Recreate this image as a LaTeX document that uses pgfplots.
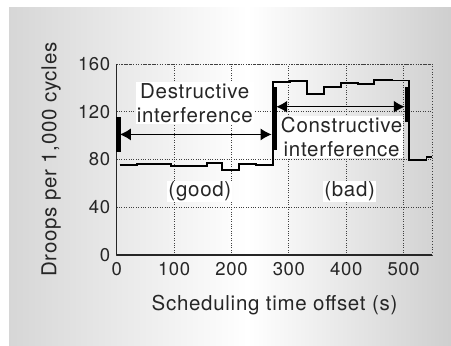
\documentclass[border=0pt]{standalone}
\usepackage{fontspec}
\setmainfont{TeX Gyre Heros}[LetterSpace=3.5]
\usepackage{pgfplots}
\pgfplotsset{compat=1.18}
\usetikzlibrary{arrows.meta}
\pgfdeclarehorizontalshading{bgshade}{100bp}{color(0bp)=(black!16); color(25bp)=(black!16); color(52bp)=(white); color(75bp)=(black!19); color(100bp)=(black!19)}
\begin{document}
\begin{tikzpicture}[font=\fontsize{20.5bp}{24.4bp}\selectfont]
\fill[white] (0,0) rectangle (451bp,346bp);
\shade[shading=bgshade] (9bp,0) rectangle (451bp,338bp);
\begin{axis}[
  at={(116.7bp,91bp)}, anchor=south west,
  scale only axis, width=315.6bp, height=191bp,
  xmin=0, xmax=550, ymin=0, ymax=160,
  xtick={0,100,...,500}, ytick={0,40,...,160},
  axis x line*=bottom, axis y line*=left,
  axis line style={line width=1.2bp, black!85},
  major tick length=0pt,
  grid=major,
  major grid style={dotted, black!75, line width=0.7bp},
  tick label style={font=\fontsize{18.5bp}{22bp}\selectfont, text=black!85},
  xticklabel style={yshift=-4bp},
  yticklabel style={xshift=-3bp},
  /pgf/number format/assume math mode=true,
  xlabel={Scheduling time offset (s)},
  ylabel={Droops per 1,000 cycles},
  every axis x label/.style={at={(axis description cs:0.5,0)}, anchor=base, yshift=-55bp, text=black!85},
  every axis y label/.style={at={([xshift=-65.5bp]axis description cs:0,0.5)}, rotate=90, anchor=center, text=black!85},
  clip=false,
]
\draw[dotted, black!75, line width=0.7bp] (rel axis cs:0,1) -- (rel axis cs:1,1) -- (rel axis cs:1,0);
\addplot[const plot, black, line width=1.8bp] coordinates {
(5,75.4) (35,76.5) (65,76.3) (95,74.8) (157,77.3) (183,71.2) (213,76) (243,75.1)
(272,145) (302,146) (331,134.8) (361,140.4) (391,143.8) (420,143) (449,146.3) (480,146.2)
(510,79.6) (540,81.8) (550,81.8)
};
\node[fill=white, inner sep=1bp, align=center, anchor=base, text=black!85] at (axis cs:136,110.8) {Destructive\\interference};
\node[fill=white, inner sep=1bp, align=center, anchor=base, text=black!85] at (axis cs:392,82.3) {Constructive\\interference};
\node[fill=white, inner sep=1bp, anchor=base, text=black!85] at (axis cs:145,48.8) {(good)};
\node[fill=white, inner sep=1bp, anchor=base, text=black!85] at (axis cs:406,48.8) {(bad)};
\draw[line width=1.1bp, {Latex[length=11bp,width=12bp]}-{Latex[length=11bp,width=12bp]}] (axis cs:5.5,101) -- (axis cs:270,101);
\draw[line width=1.1bp, {Latex[length=11bp,width=12bp]}-{Latex[length=11bp,width=12bp]}] (axis cs:278,124.2) -- (axis cs:502,124.2);
\draw[line width=5bp] (axis cs:2.8,86.5) -- (axis cs:2.8,115.8);
\draw[line width=5bp] (axis cs:274.5,88) -- (axis cs:274.5,140.5);
\draw[line width=5bp] (axis cs:507.5,111.6) -- (axis cs:507.5,141);
\end{axis}
\pgfresetboundingbox
\useasboundingbox (0,0) rectangle (451bp,346bp);
\end{tikzpicture}
\end{document}
